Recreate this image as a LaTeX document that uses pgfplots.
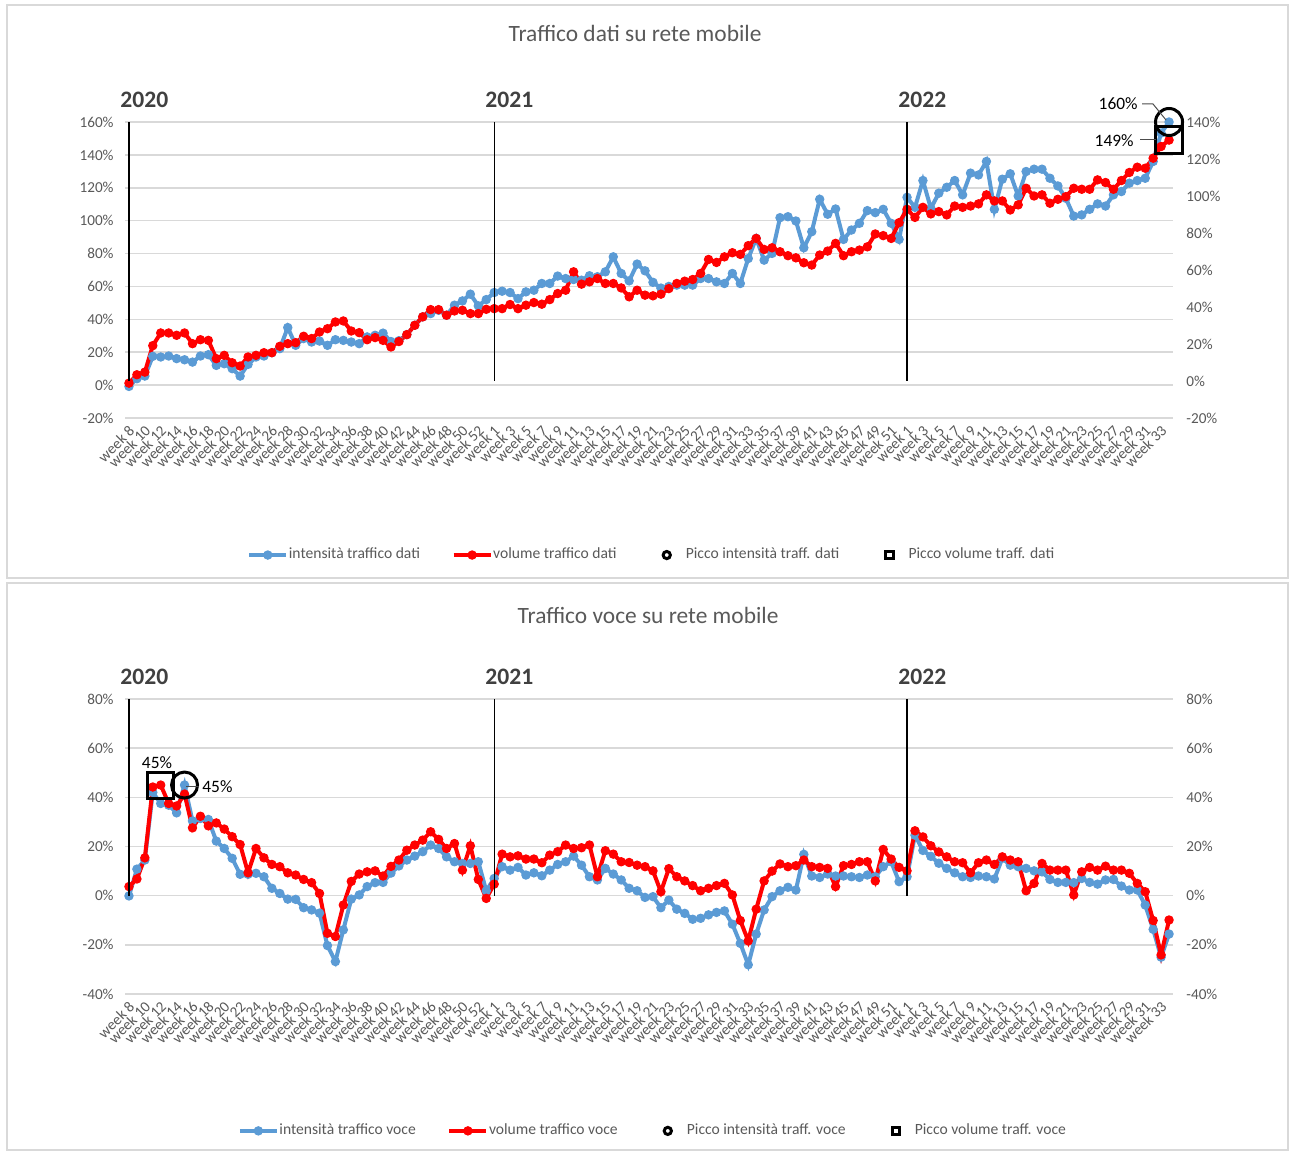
\documentclass[border=0pt]{standalone}
\usepackage{pgfplots}
\pgfplotsset{compat=1.18}
\usepackage{pgfplotstable}
\usepackage{fontspec}
\setmainfont{Carlito}
\definecolor{xblue}{HTML}{5B9BD5}
\definecolor{xred}{HTML}{FF0000}
\definecolor{xgrid}{HTML}{D9D9D9}
\definecolor{xtext}{HTML}{595959}
\definecolor{xyear}{HTML}{404040}

\pgfplotstableread{
bd rd bv rv
-0.8 1.2 -0.1 3.7
3.9 6.3 10.8 6.8
5.5 7.9 14.5 15.4
17.5 24.0 42.0 44.2
17.1 31.7 37.5 45.0
17.7 31.7 36.8 37.5
16.1 30.3 33.7 36.5
15.4 31.7 45.0 41.3
14.0 25.2 30.4 27.6
17.7 27.6 31.4 32.3
18.5 27.2 31.0 28.4
12.0 16.1 22.2 29.6
13.0 18.1 19.2 27.1
10.0 13.6 15.2 24.0
5.5 11.6 8.7 20.8
12.6 17.1 8.7 9.3
17.1 18.1 9.1 19.2
17.7 19.7 7.7 15.4
19.7 19.7 3.0 12.7
22.2 23.6 0.9 11.8
35.0 25.2 -1.4 9.3
24.2 25.8 -1.5 8.4
28.3 29.7 -4.9 6.6
26.2 28.3 -5.8 5.3
26.8 32.3 -7.1 0.9
24.2 34.3 -20.3 -15.3
27.6 38.4 -26.8 -16.6
27.2 39.0 -13.9 -3.8
26.2 32.9 -1.4 5.8
25.2 31.9 0.3 8.8
29.3 27.6 3.7 9.7
30.3 28.9 5.3 10.1
31.6 27.2 5.4 8.0
26.5 23.2 9.2 11.9
27.0 26.5 12.1 14.5
30.7 30.7 14.5 18.5
36.4 36.4 16.1 20.6
41.5 41.5 17.9 22.6
43.5 45.9 20.6 26.0
45.5 45.9 19.2 22.9
42.5 42.5 15.8 19.2
48.6 45.1 13.8 21.2
51.2 45.5 13.1 10.4
55.3 43.5 13.1 20.3
48.2 43.5 13.8 6.6
52.0 46.1 2.0 -1.1
56.3 46.5 7.0 4.7
57.1 46.5 11.8 16.9
56.3 49.0 10.4 15.8
52.6 46.5 11.5 16.2
56.7 48.6 8.4 14.9
57.7 50.2 9.3 14.9
61.8 49.2 8.1 13.4
61.8 52.0 10.4 16.5
66.3 55.7 12.7 17.9
64.8 57.7 13.8 20.6
64.2 68.9 16.1 19.2
63.8 61.4 12.4 19.5
66.5 62.8 7.7 20.6
65.9 64.8 6.4 7.7
68.9 61.8 11.1 18.3
78.0 61.8 8.8 16.9
67.9 59.1 6.4 13.8
63.4 53.7 3.0 13.5
73.6 57.7 2.0 12.4
69.5 54.7 -0.7 11.8
62.5 54.3 -0.4 10.1
59.0 55.3 -4.9 1.6
60.0 58.7 -1.8 11.0
60.8 61.8 -5.5 7.7
60.8 63.2 -7.2 6.0
60.8 64.2 -9.6 4.1
64.8 67.9 -9.2 2.0
64.8 76.4 -7.8 3.0
62.8 74.6 -6.8 4.1
61.8 78.0 -6.2 5.0
67.9 80.5 -11.6 0.3
61.8 79.5 -19.4 -10.1
77.0 84.8 -28.1 -18.4
89.2 89.2 -15.6 -5.5
76.0 82.5 -5.8 6.0
80.1 83.5 -0.4 10.0
101.8 81.1 2.0 12.9
102.4 78.7 3.4 11.8
99.8 77.4 2.3 12.2
83.5 74.4 16.8 14.5
93.3 73.0 8.0 11.8
113.0 79.1 7.4 11.5
103.9 81.5 8.8 11.1
107.1 86.2 8.0 3.7
88.6 78.7 8.0 12.2
94.3 81.1 7.7 12.7
98.4 82.1 7.4 13.8
106.1 84.1 8.4 13.8
104.9 91.9 7.7 6.0
106.9 90.9 11.8 18.8
98.4 89.2 13.8 14.9
88.6 98.8 5.7 11.5
114.2 106.9 7.7 10.1
108.1 102.0 24.6 26.4
124.4 108.1 18.4 23.9
107.5 104.1 16.0 20.3
116.7 105.5 13.2 17.8
120.3 103.5 11.1 15.8
124.4 108.9 9.3 13.8
115.7 108.1 7.7 13.4
128.9 108.9 7.4 9.3
127.8 110.2 8.0 13.4
136.0 115.7 7.7 14.5
106.9 112.0 6.8 12.7
125.2 112.0 15.2 15.8
128.5 106.5 12.4 14.5
115.0 109.6 11.8 13.8
129.9 119.7 11.1 2.0
131.3 115.0 10.1 5.0
131.3 115.7 9.7 13.1
125.8 110.6 6.6 10.4
121.1 113.0 5.4 10.4
113.6 114.6 5.4 10.4
102.8 119.7 5.3 0.3
103.5 119.1 7.0 9.7
106.9 119.1 5.4 11.5
110.2 124.8 4.7 10.4
108.9 123.2 6.4 12.0
115.7 119.1 6.6 10.4
117.7 124.4 3.9 10.4
122.8 129.3 2.3 9.1
124.4 132.5 2.3 5.0
125.8 131.9 -3.8 1.6
136.0 138.0 -13.7 -10.1
153.3 145.1 -25.0 -24.1
160.0 149.0 -15.6 -9.9
}\data

\newcommand{\weeklabels}{week 8,week 10,week 12,week 14,week 16,week 18,week 20,week 22,week 24,week 26,week 28,week 30,week 32,week 34,week 36,week 38,week 40,week 42,week 44,week 46,week 48,week 50,week 52,week 1,week 3,week 5,week 7,week 9,week 11,week 13,week 15,week 17,week 19,week 21,week 23,week 25,week 27,week 29,week 31,week 33,week 35,week 37,week 39,week 41,week 43,week 45,week 47,week 49,week 51,week 1,week 3,week 5,week 7,week 9,week 11,week 13,week 15,week 17,week 19,week 21,week 23,week 25,week 27,week 29,week 31,week 33}

\pgfplotsset{
  excelbase/.style={
    scale only axis, width=524pt,
    xmin=-0.5, xmax=131.5,
    axis line style={draw=none},
    major tick length=0pt,
    tick label style={font=\fontsize{7.6}{9}\selectfont, text=xtext},
    /pgf/number format/assume math mode=true,
    yticklabel={\pgfmathprintnumber{\tick}\%},
    clip=false,
  },
  mainax/.style={
    excelbase,
    ymajorgrids, grid style={xgrid, line width=0.75pt},
    yticklabel style={anchor=east, xshift=-5.5pt, inner sep=0pt},
    xtick={0,2,...,130},
    xticklabels/.expand once={\weeklabels},
    xticklabel style={yshift=-5pt, xshift=1.5pt, rotate=45, anchor=east, inner sep=0pt},
    legend columns=4,
    legend image code/.code={\path[draw=none, fill=none] (0pt,-1pt) rectangle (18.5pt,1pt);\draw[mark repeat=2,mark phase=2,##1] plot coordinates {(0pt,0pt) (9.25pt,0pt) (18.5pt,0pt)};},
    legend style={draw=none, fill=none, anchor=center,
      font=\fontsize{7.8}{9}\selectfont, text=xtext,
      nodes={inner sep=0.3pt},
      /tikz/every even column/.append style={column sep=15.5pt}},
  },
  secax/.style={
    excelbase,
    axis y line*=right, axis x line=none,
    yticklabel style={anchor=west, xshift=6.5pt, inner sep=0pt},
  },
  blueline/.style={xblue, line width=2pt, mark=*, mark size=2.1pt, mark options={solid, fill=xblue, line width=0.5pt}},
  redline/.style={xred, line width=2pt, mark=*, mark size=2.1pt, mark options={solid, fill=xred, line width=0.5pt}},
}

\begin{document}
\begin{tikzpicture}
\useasboundingbox (0,0) rectangle (644.5pt,576pt);

% ---------- top chart ----------
\begin{axis}[mainax, at={(62.5pt,367pt)}, anchor=south west, height=148pt,
  ymin=-20, ymax=160, ytick={-20,0,...,160},
  legend style={at={(0.502,-0.463)}}]
\addplot[blueline] table[x expr=\coordindex, y=bd] {\data};
\addlegendentry{intensità traffico dati}
\addplot[redline] table[x expr=\coordindex, y=rd] {\data};
\addlegendentry{volume traffico dati}
\addplot[black, only marks, mark=o, mark size=6.75pt, line width=1.5pt, forget plot] coordinates {(131,160)};
\addplot[black, only marks, mark=square, mark size=6.75pt, line width=1.5pt, forget plot] coordinates {(131,149)};
\addlegendimage{black, only marks, mark=o, mark size=1.8pt, line width=1.5pt}
\addlegendentry{Picco intensità traff. dati}
\addlegendimage{black, only marks, mark=square, mark size=1.8pt, line width=1.5pt}
\addlegendentry{Picco volume traff. dati}
\end{axis}
\begin{axis}[secax, at={(62.5pt,367pt)}, anchor=south west, height=148pt,
  ymin=-20, ymax=140, ytick={-20,0,...,140}]
\addplot[black, line width=0.6pt] coordinates {(0,0) (0,140)};
\addplot[black, line width=0.6pt] coordinates {(46,0) (46,140)};
\addplot[black, line width=1pt] coordinates {(98,0) (98,140)};
\end{axis}

% ---------- bottom chart ----------
\begin{axis}[mainax, at={(62.5pt,79pt)}, anchor=south west, height=147.5pt,
  ymin=-40, ymax=80, ytick={-40,-20,...,80},
  legend style={at={(0.503,-0.464)}}]
\addplot[blueline] table[x expr=\coordindex, y=bv] {\data};
\addlegendentry{intensità traffico voce}
\addplot[redline] table[x expr=\coordindex, y=rv] {\data};
\addlegendentry{volume traffico voce}
\addplot[black, only marks, mark=o, mark size=6.5pt, line width=1.5pt, forget plot] coordinates {(7,45)};
\addplot[black, only marks, mark=square, mark size=6.5pt, line width=1.5pt, forget plot] coordinates {(4,45)};
\addlegendimage{black, only marks, mark=o, mark size=1.8pt, line width=1.5pt}
\addlegendentry{Picco intensità traff. voce}
\addlegendimage{black, only marks, mark=square, mark size=1.8pt, line width=1.5pt}
\addlegendentry{Picco volume traff. voce}
\end{axis}
\begin{axis}[secax, at={(62.5pt,79pt)}, anchor=south west, height=147.5pt,
  ymin=-40, ymax=80, ytick={-40,-20,...,80}]
\addplot[black, line width=0.6pt] coordinates {(0,0) (0,80)};
\addplot[black, line width=0.6pt] coordinates {(46,0) (46,80)};
\addplot[black, line width=1pt] coordinates {(98,0) (98,80)};
\end{axis}

% ---------- texts and frames (pixel units) ----------
\begin{scope}[x=0.5pt, y=-0.5pt, shift={(0pt,576pt)}]
\draw[xgrid, line width=0.6pt] (7,5) rectangle (1288,578);
\draw[xgrid, line width=0.6pt] (7,583) rectangle (1288,1150);
\node[font=\fontsize{11.7}{14}\selectfont, text=xtext] at (635,33) {Traffico dati su rete mobile};
\node[font=\fontsize{11.7}{14}\selectfont, text=xtext] at (648,615) {Traffico voce su rete mobile};
\foreach \yy in {100,677}{
  \node[anchor=west, inner sep=0pt, font=\bfseries\fontsize{11.8}{14}\selectfont, text=xyear] at (120,\yy) {2020};
  \node[anchor=west, inner sep=0pt, font=\bfseries\fontsize{11.8}{14}\selectfont, text=xyear] at (485,\yy) {2021};
  \node[anchor=west, inner sep=0pt, font=\bfseries\fontsize{11.8}{14}\selectfont, text=xyear] at (898,\yy) {2022};
}
% data labels
\node[anchor=east, inner sep=0pt, font=\fontsize{8.7}{10}\selectfont] at (1138,104) {160\%};
\draw[black!70, line width=0.5pt] (1142,104) -- (1153,104) -- (1166,120);
\node[anchor=east, inner sep=0pt, font=\fontsize{8.7}{10}\selectfont] at (1134,141) {149\%};
\draw[black!70, line width=0.5pt] (1140,140) -- (1156,140);
\node[inner sep=0pt, font=\fontsize{8.7}{10}\selectfont] at (157,763) {45\%};
\node[anchor=west, inner sep=0pt, font=\fontsize{8.7}{10}\selectfont] at (202,787) {45\%};
\draw[black!70, line width=0.5pt] (186,786) -- (199,786);
\end{scope}
\end{tikzpicture}
\end{document}
